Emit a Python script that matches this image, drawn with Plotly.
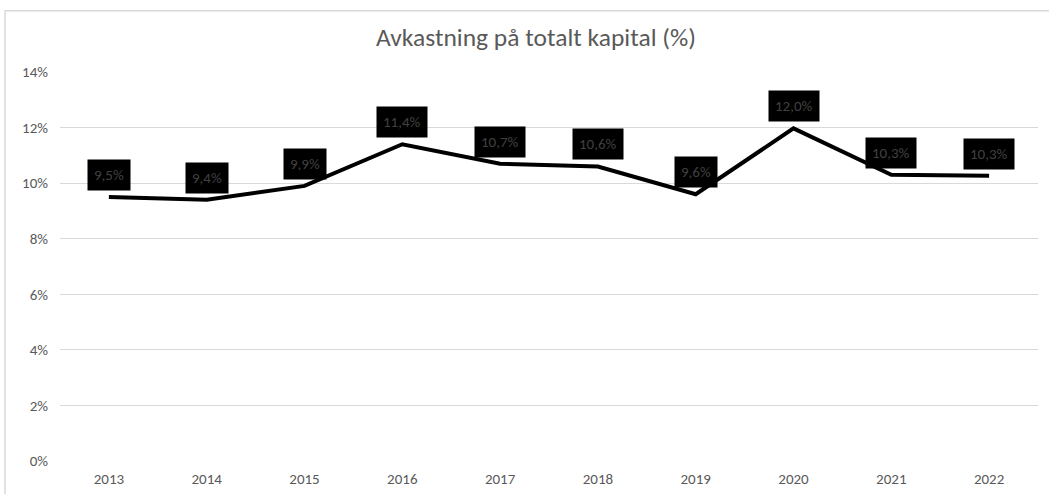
import plotly.graph_objects as go

years = ["2013", "2014", "2015", "2016", "2017", "2018", "2019", "2020", "2021", "2022"]
values = [9.5, 9.4, 9.9, 11.4, 10.7, 10.6, 9.6, 11.97, 10.3, 10.27]
y_ticks = [0, 2, 4, 6, 8, 10, 12, 14]
y_tick_labels = [f"{t}%" for t in y_ticks]
value_labels = [f"{v:.1f}".replace(".", ",") + "%" for v in values]

FONT = "Carlito, Lato, sans-serif"

fig = go.Figure()
fig.add_trace(go.Scatter(
    x=years, y=values, mode="lines",
    line=dict(color="black", width=4),
    hoverinfo="skip", showlegend=False,
))

annotations = []
for i, (v, lab) in enumerate(zip(values, value_labels)):
    annotations.append(dict(
        x=i, y=v, xref="x", yref="y",
        text=lab,
        showarrow=False, yanchor="middle", yshift=22,
        bgcolor="black", borderpad=6,
        font=dict(family=FONT, size=15, color="#404040"),
    ))

fig.update_layout(
    width=1049, height=494,
    margin=dict(l=60, r=11, t=72, b=33),
    paper_bgcolor="white", plot_bgcolor="white",
    title=dict(text="Avkastning på totalt kapital (%)", x=0.4867, xref="paper",
               xanchor="center", y=1 - 37 / 494, yanchor="middle",
               font=dict(family=FONT, size=25.5, color="#595959")),
    font=dict(family=FONT, size=15, color="#595959"),
    xaxis=dict(type="category", showgrid=False, zeroline=False, showline=False,
               tickfont=dict(size=15, color="#595959"), ticklabelstandoff=7,
               automargin=False, range=[-0.5, len(years) - 0.5]),
    yaxis=dict(range=[0, 14], tickmode="array", tickvals=y_ticks, ticktext=y_tick_labels,
               showgrid=True, gridcolor="#d9d9d9", gridwidth=1,
               zeroline=False, showline=False, ticklabelstandoff=11,
               automargin=False, tickfont=dict(size=15, color="#595959")),
    annotations=annotations,
    shapes=[dict(type="rect", xref="paper", yref="paper",
                 x0=-0.0562, x1=1.1, y0=-0.2, y1=1.1577,
                 line=dict(color="#d9d9d9", width=1.5), fillcolor="rgba(0,0,0,0)",
                 layer="below")],
)

fig.write_html("out.html",
               config={"displayModeBar": False},
               post_script="document.body.style.margin='0';document.body.style.padding='0';")
